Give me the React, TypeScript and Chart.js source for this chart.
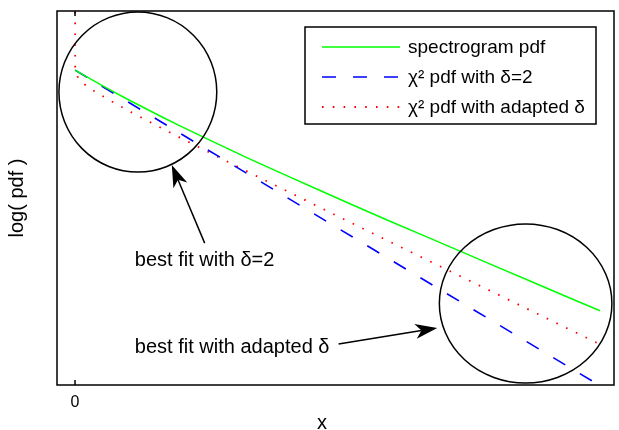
import React, { useEffect, useRef } from 'react';
import { Chart, registerables } from 'chart.js';

Chart.register(...registerables);

// ---- data (x in arbitrary units, y = log(pdf)) ----
const xGreen = [0, 1, 2, 3, 4, 5, 6, 8, 10, 12, 14, 16, 18, 20, 22, 24, 26, 28, 30];
const yGreen = [-2.37, -2.77, -3.16, -3.54, -3.9, -4.26, -4.61, -5.28, -5.94, -6.57, -7.2, -7.82, -8.43, -9.03, -9.63, -10.23, -10.83, -11.43, -12.02];
const xBlue = [0, 10, 20, 30.1];
const yBlue = [-2.37, -6.59, -10.81, -15.07];
const xRed = [0, 0.01, 0.05, 0.2, 0.5, 1, 2, 3, 4, 6, 8, 10, 14, 18, 22, 26, 30];
const yRed = [3, -2.28, -2.49, -2.71, -2.92, -3.17, -3.59, -3.98, -4.35, -5.08, -5.79, -6.49, -7.88, -9.26, -10.63, -12.0, -13.37];
const seriesLabels = ['spectrogram pdf', 'χ² pdf with δ=2', 'χ² pdf with adapted δ'];
const xTickValues = [0];
const xAxisLabel = 'x';
const yAxisLabel = 'log( pdf )';
const X_MIN = -1.03;
const X_MAX = 30.8;
const Y_MIN = -15;
const Y_MAX = 0;

// ---- annotations (data coordinates) ----
const ellipseCenters = [[3.59, -3.25], [25.75, -11.73]];
const ellipseRadii = [[4.51, 3.21], [4.93, 3.19]];
const noteTexts = ['best fit with δ=2', 'best fit with adapted δ'];
const notePositions = [[3.42, -10.23], [3.42, -13.72]];
const arrowFrom = [[7.41, -9.31], [15.06, -13.36]];
const arrowTo = [[5.53, -6.18], [20.7, -12.71]];

const FONT = "'Liberation Sans', Arial, Helvetica, sans-serif";

function toPts(xs: number[], ys: number[]) {
  return xs.map((x, i) => ({ x, y: ys[i] }));
}

function drawArrow(ctx: CanvasRenderingContext2D, x0: number, y0: number, x1: number, y1: number) {
  const ang = Math.atan2(y1 - y0, x1 - x0);
  const L = 22, W = 7.5, N = 16;
  const ux = Math.cos(ang), uy = Math.sin(ang);
  const px = -uy, py = ux;
  const bx = x1 - ux * L, by = y1 - uy * L;
  const nx = x1 - ux * N, ny = y1 - uy * N;
  ctx.beginPath();
  ctx.moveTo(x0, y0);
  ctx.lineTo(nx, ny);
  ctx.stroke();
  ctx.beginPath();
  ctx.moveTo(x1, y1);
  ctx.lineTo(bx + px * W, by + py * W);
  ctx.lineTo(nx, ny);
  ctx.lineTo(bx - px * W, by - py * W);
  ctx.closePath();
  ctx.fill();
}

const overlay = {
  id: 'overlay',
  afterDatasetsDraw(chart: any) {
    const { ctx, chartArea: a, scales } = chart;
    const xs = scales.x, ys = scales.y;
    ctx.save();
    ctx.strokeStyle = '#000';
    ctx.fillStyle = '#000';
    ctx.lineWidth = 1.5;
    ctx.setLineDash([]);

    // ellipses
    ellipseCenters.forEach((c, i) => {
      const cx = xs.getPixelForValue(c[0]);
      const cy = ys.getPixelForValue(c[1]);
      const rx = Math.abs(xs.getPixelForValue(c[0] + ellipseRadii[i][0]) - cx);
      const ry = Math.abs(ys.getPixelForValue(c[1] + ellipseRadii[i][1]) - cy);
      ctx.beginPath();
      ctx.ellipse(cx, cy, rx, ry, 0, 0, Math.PI * 2);
      ctx.stroke();
    });

    // arrows
    arrowFrom.forEach((f, i) => {
      drawArrow(
        ctx,
        xs.getPixelForValue(f[0]), ys.getPixelForValue(f[1]),
        xs.getPixelForValue(arrowTo[i][0]), ys.getPixelForValue(arrowTo[i][1])
      );
    });

    // notes
    ctx.font = `20px ${FONT}`;
    ctx.textBaseline = 'alphabetic';
    ctx.textAlign = 'left';
    noteTexts.forEach((t, i) => {
      ctx.fillText(t, xs.getPixelForValue(notePositions[i][0]), ys.getPixelForValue(notePositions[i][1]));
    });

    // x axis label (placed as in the original figure, slightly left of centre)
    ctx.font = `20px ${FONT}`;
    ctx.textAlign = 'center';
    ctx.textBaseline = 'alphabetic';
    ctx.fillText(xAxisLabel, a.left + 265, a.bottom + 44);
    ctx.textAlign = 'left';

    // axes box
    ctx.lineWidth = 1.5;
    ctx.strokeRect(a.left, a.top, a.right - a.left, a.bottom - a.top);

    // inward ticks (bottom and top)
    xTickValues.forEach((v) => {
      const px = xs.getPixelForValue(v);
      ctx.beginPath();
      ctx.moveTo(px, a.bottom);
      ctx.lineTo(px, a.bottom - 5);
      ctx.moveTo(px, a.top);
      ctx.lineTo(px, a.top + 5);
      ctx.stroke();
    });

    // legend
    const boxW = 291, boxH = 97;
    const bx = a.right - 18 - boxW;
    const by = a.top + 16;
    ctx.fillStyle = '#fff';
    ctx.fillRect(bx, by, boxW, boxH);
    ctx.strokeStyle = '#000';
    ctx.lineWidth = 1.5;
    ctx.strokeRect(bx, by, boxW, boxH);
    ctx.font = `19px ${FONT}`;
    chart.data.datasets.forEach((ds: any, i: number) => {
      const baseY = by + 26 + i * 30;
      const lineY = baseY - 6;
      ctx.save();
      ctx.strokeStyle = ds.borderColor;
      ctx.lineWidth = ds.borderWidth;
      ctx.setLineDash(ds.borderDash || []);
      ctx.beginPath();
      ctx.moveTo(bx + 17, lineY);
      ctx.lineTo(bx + 95, lineY);
      ctx.stroke();
      ctx.restore();
      ctx.fillStyle = '#000';
      ctx.textBaseline = 'alphabetic';
      ctx.fillText(ds.label, bx + 103, baseY);
    });
    ctx.restore();
  },
};

export default function App() {
  const ref = useRef<HTMLCanvasElement>(null);
  useEffect(() => {
    const chart = new Chart(ref.current as HTMLCanvasElement, {
      type: 'line',
      data: {
        datasets: [
          {
            label: seriesLabels[0],
            data: toPts(xGreen, yGreen),
            borderColor: '#00ff00',
            borderWidth: 1.5,
            pointRadius: 0,
            tension: 0,
          },
          {
            label: seriesLabels[1],
            data: toPts(xBlue, yBlue),
            borderColor: '#0000ff',
            borderWidth: 1.6,
            borderDash: [14, 17],
            pointRadius: 0,
            tension: 0,
          },
          {
            label: seriesLabels[2],
            data: toPts(xRed, yRed),
            borderColor: '#ff0000',
            borderWidth: 1.8,
            borderDash: [1.6, 9.2],
            pointRadius: 0,
            tension: 0,
          },
        ],
      },
      options: {
        responsive: false,
        animation: false,
        parsing: false,
        layout: { padding: { left: 0, top: 11, right: 5, bottom: 0 } },
        plugins: { legend: { display: false }, tooltip: { enabled: false } },
        scales: {
          x: {
            type: 'linear',
            min: X_MIN,
            max: X_MAX,
            grid: { display: false, drawTicks: false },
            border: { display: false },
            afterBuildTicks: (s: any) => {
              s.ticks = xTickValues.map((v) => ({ value: v }));
            },
            ticks: {
              padding: 8,
              color: '#000',
              maxRotation: 0,
              autoSkip: false,
              font: { family: FONT, size: 16 },
              callback: (v: any) => String(v),
            },
            title: { display: false },
            afterFit: (s: any) => {
              s.height = 45;
            },
          },
          y: {
            type: 'linear',
            min: Y_MIN,
            max: Y_MAX,
            grid: { display: false, drawTicks: false },
            border: { display: false },
            ticks: { display: false },
            title: {
              display: true,
              text: yAxisLabel,
              color: '#000',
              font: { family: FONT, size: 20 },
              padding: { top: 5, bottom: 0 },
            },
            afterFit: (s: any) => {
              s.width = 57;
            },
          },
        },
      } as any,
      plugins: [overlay],
    });
    return () => chart.destroy();
  }, []);
  return (
    <div style={{ position: 'fixed', left: 0, top: 0, width: 619, height: 430, background: '#fff' }}>
      <canvas ref={ref} width={619} height={430} style={{ display: 'block' }} />
    </div>
  );
}
